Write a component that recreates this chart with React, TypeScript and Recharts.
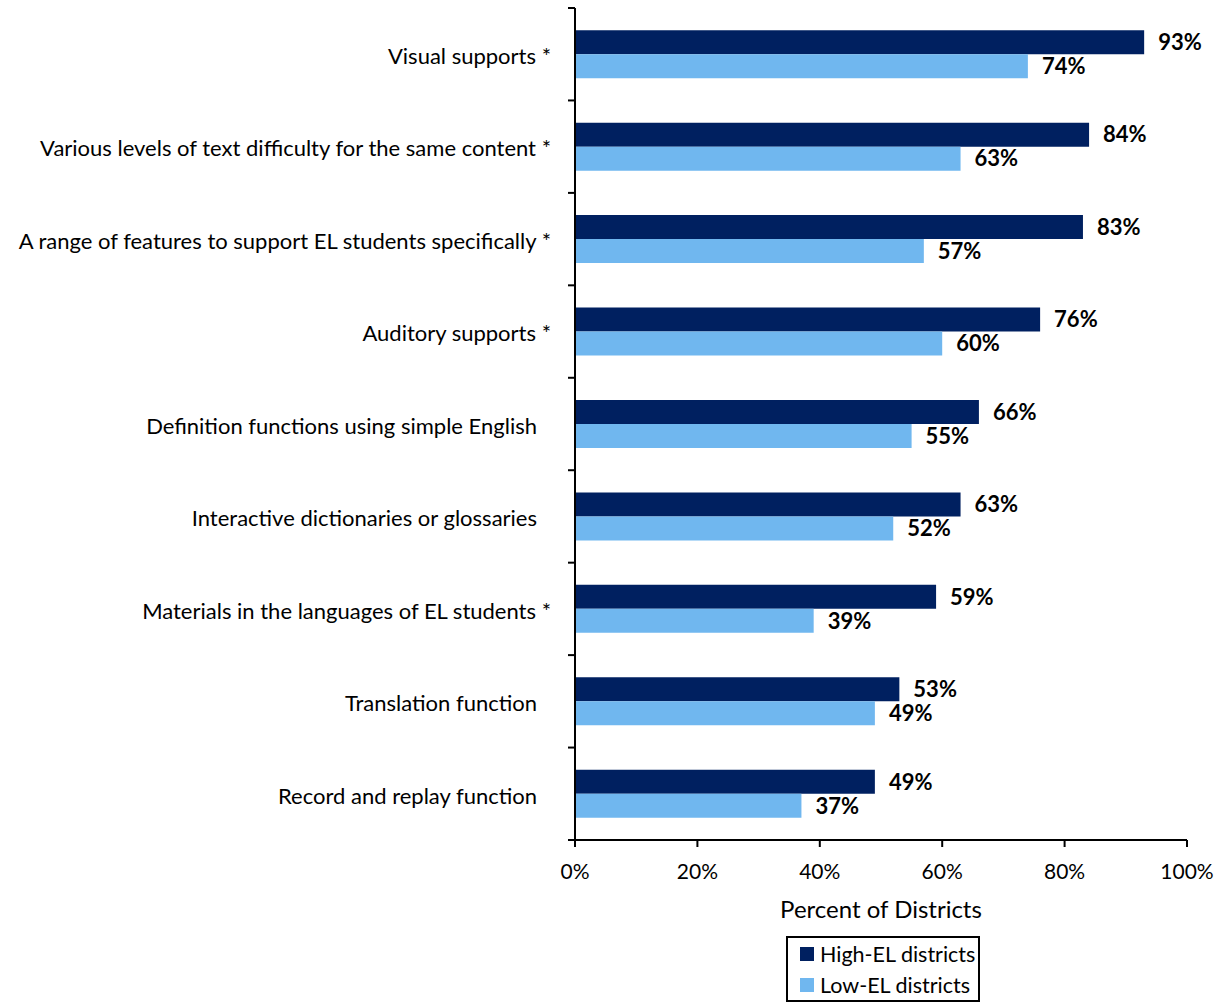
import React from 'react';
import { BarChart, Bar, XAxis, YAxis, Legend, LabelList } from 'recharts';

const categories = [
  'Visual supports *',
  'Various levels of text difficulty for the same content *',
  'A range of features to support EL students specifically *',
  'Auditory supports *',
  'Definition functions using simple English',
  'Interactive dictionaries or glossaries',
  'Materials in the languages of EL students *',
  'Translation function',
  'Record and replay function',
];
const highEL = [93, 84, 83, 76, 66, 63, 59, 53, 49];
const lowEL = [74, 63, 57, 60, 55, 52, 39, 49, 37];
const xTicks = [0, 20, 40, 60, 80, 100];

const DARK = '#002060';
const LIGHT = '#70B7EF';
const FONT = 'Lato, "Open Sans", sans-serif';

const data = categories.map((c, i) => ({ name: c, high: highEL[i], low: lowEL[i] }));

const YTick = (props: any) => {
  const { x, y, payload, index } = props;
  const off = payload.offset || 0;
  const axisX = x + 24;
  const label: string = payload.value;
  const shift = label.trim().endsWith('*') ? 0 : 14;
  return (
    <g>
      <line x1={axisX - 7} x2={axisX} y1={y - off} y2={y - off} stroke="#000" strokeWidth={2} />
      {index === categories.length - 1 && (
        <line x1={axisX - 7} x2={axisX} y1={y + off} y2={y + off} stroke="#000" strokeWidth={2} />
      )}
      <text x={x - shift} y={y + 2} dy="0.355em" textAnchor="end" fontSize={22} fontFamily={FONT} fill="#000">
        {label}
      </text>
    </g>
  );
};

const LegendBox = () => (
  <div
    style={{
      border: '2px solid #000',
      width: 190,
      height: 62,
      boxSizing: 'content-box',
      fontFamily: FONT,
      fontSize: 21.5,
      color: '#000',
      padding: 0,
      whiteSpace: 'nowrap',
    }}
  >
    {[
      { c: DARK, t: 'High-EL districts' },
      { c: LIGHT, t: 'Low-EL districts' },
    ].map((it) => (
      <div key={it.t} style={{ display: 'flex', alignItems: 'center', height: 31, paddingLeft: 12 }}>
        <span style={{ display: 'inline-block', width: 14, height: 14, background: it.c, marginRight: 6 }} />
        <span>{it.t}</span>
      </div>
    ))}
  </div>
);

export default function App() {
  return (
    <div style={{ position: 'absolute', left: 0, top: 0, width: 1223, height: 1002, background: '#fff' }}>
      <BarChart
        width={1223}
        height={1002}
        data={data}
        layout="vertical"
        margin={{ top: 8, right: 36, left: 0, bottom: 0 }}
        barCategoryGap="24%"
        barGap={0}
      >
        <XAxis
          type="number"
          domain={[0, 100]}
          ticks={xTicks}
          tickFormatter={(v) => `${v}%`}
          height={96}
          axisLine={{ stroke: '#000', strokeWidth: 2 }}
          tickLine={{ stroke: '#000', strokeWidth: 2 }}
          tickSize={7}
          tickMargin={17}
          tick={{ fontSize: 21, fontFamily: FONT, fill: '#000' }}
          interval={0}
          label={{ value: 'Percent of Districts', position: 'insideBottom', offset: 18, fontSize: 24, fontFamily: FONT, fill: '#000' }}
        />
        <YAxis
          type="category"
          dataKey="name"
          width={575}
          axisLine={{ stroke: '#000', strokeWidth: 2 }}
          tickLine={false}
          tickSize={6}
          tickMargin={18}
          tick={<YTick />}
          interval={0}
        />
        <Legend verticalAlign="bottom" width={194} wrapperStyle={{ left: 786, bottom: 0 }} content={() => <LegendBox />} />
        <Bar dataKey="high" name="High-EL districts" fill={DARK} isAnimationActive={false}>
          <LabelList dataKey="high" position="right" offset={14} formatter={(v: any) => `${v}%`} style={{ fontSize: 22, fontWeight: 700, fontFamily: FONT, fill: '#000' }} />
        </Bar>
        <Bar dataKey="low" name="Low-EL districts" fill={LIGHT} isAnimationActive={false}>
          <LabelList dataKey="low" position="right" offset={14} formatter={(v: any) => `${v}%`} style={{ fontSize: 22, fontWeight: 700, fontFamily: FONT, fill: '#000' }} />
        </Bar>
      </BarChart>
    </div>
  );
}
